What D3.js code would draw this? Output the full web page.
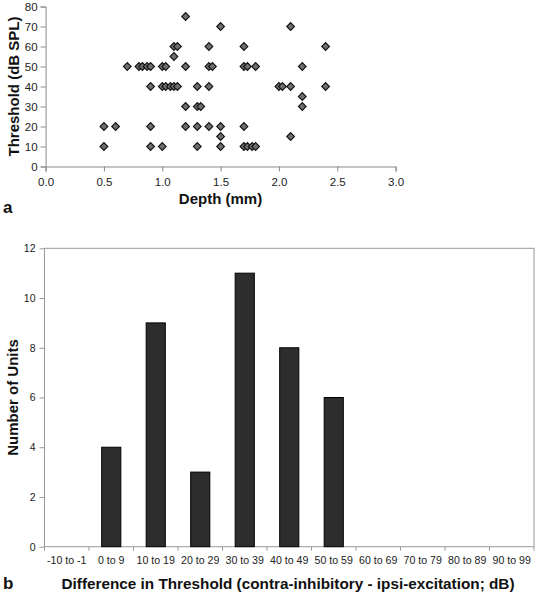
<!DOCTYPE html>
<html>
<head>
<meta charset="utf-8">
<script src="https://cdn.jsdelivr.net/npm/d3@7"></script>
<style>
  html, body { margin: 0; padding: 0; background: #fff; }
  svg { display: block; font-family: "Liberation Sans", Arial, sans-serif; }
</style>
</head>
<body>
<svg id="chart" width="537" height="593"></svg>
<script>
// ---- Panel a: scatter (depth vs threshold) ----
const depth = [
  0.7, 0.8, 0.83, 0.87, 0.9, 1.0, 1.03, 1.2, 1.4, 1.43, 1.7, 1.73, 1.8, 2.2,
  0.9, 1.0, 1.03, 1.07, 1.1, 1.13, 1.3, 1.4, 2.0, 2.03, 2.1, 2.4,
  1.2, 1.3, 1.33, 2.2,
  2.2,
  0.5, 0.6, 0.9, 1.2, 1.3, 1.4, 1.5, 1.7,
  1.5, 2.1,
  0.5, 0.9, 1.0, 1.3, 1.5, 1.7, 1.73, 1.77, 1.8,
  1.1, 1.13, 1.4, 1.7, 2.4,
  1.1,
  1.5, 2.1,
  1.2
];
const threshold = [
  50, 50, 50, 50, 50, 50, 50, 50, 50, 50, 50, 50, 50, 50,
  40, 40, 40, 40, 40, 40, 40, 40, 40, 40, 40, 40,
  30, 30, 30, 30,
  35,
  20, 20, 20, 20, 20, 20, 20, 20,
  15, 15,
  10, 10, 10, 10, 10, 10, 10, 10, 10,
  60, 60, 60, 60, 60,
  55,
  70, 70,
  75
];
const depthTicks = [0, 0.5, 1.0, 1.5, 2.0, 2.5, 3.0];
const thresholdTicks = [0, 10, 20, 30, 40, 50, 60, 70, 80];

// ---- Panel b: histogram ----
const categories = ["-10 to -1", "0 to 9", "10 to 19", "20 to 29", "30 to 39", "40 to 49",
  "50 to 59", "60 to 69", "70 to 79", "80 to 89", "90 to 99"];
const counts = [0, 4, 9, 3, 11, 8, 6, 0, 0, 0, 0];
const countTicks = [0, 2, 4, 6, 8, 10, 12];

const svg = d3.select("#chart");
const axisColor = "#8a8a8a";
const textColor = "#222";

// ===== Panel a =====
const xA = d3.scaleLinear().domain([0, 3]).range([45.6, 395.6]);
const yA = d3.scaleLinear().domain([0, 80]).range([166.5, 6.5]);

const gA = svg.append("g");
const xAxisA = gA.append("g")
  .attr("transform", `translate(0,${yA(0)})`)
  .call(d3.axisBottom(xA).tickValues(depthTicks).tickFormat(d3.format(".1f")).tickSize(5).tickPadding(6));
const yAxisA = gA.append("g")
  .attr("transform", `translate(${xA(0)},0)`)
  .call(d3.axisLeft(yA).tickValues(thresholdTicks).tickFormat(d3.format("d")).tickSize(5).tickPadding(3));
[xAxisA, yAxisA].forEach(ax => {
  ax.select(".domain").attr("stroke", axisColor);
  ax.selectAll(".tick line").attr("stroke", axisColor);
  ax.selectAll(".tick text").attr("fill", textColor).style("font-size", "11.5px")
    .style("font-family", '"Liberation Sans", Arial, sans-serif');
});

const diamond = d3.symbol().type(d3.symbolSquare).size(30);
gA.append("g").selectAll("path")
  .data(depth.map((d, i) => [d, threshold[i]]))
  .join("path")
  .attr("d", diamond)
  .attr("transform", d => `translate(${xA(d[0])},${yA(d[1])}) rotate(45)`)
  .attr("fill", "#6e6e6e")
  .attr("stroke", "#111")
  .attr("stroke-width", 1.1);

gA.append("text")
  .attr("transform", `translate(13,${(yA(0) + yA(80)) / 2}) rotate(-90)`)
  .attr("text-anchor", "middle")
  .attr("dominant-baseline", "central")
  .style("font-size", "15px").style("font-weight", "bold").attr("fill", "#111")
  .text("Threshold (dB SPL)");

gA.append("text")
  .attr("x", 220.5).attr("y", 204)
  .attr("text-anchor", "middle")
  .style("font-size", "15px").style("font-weight", "bold").attr("fill", "#111")
  .text("Depth (mm)");

gA.append("text")
  .attr("x", 3).attr("y", 213)
  .style("font-size", "17px").style("font-weight", "bold").attr("fill", "#111")
  .text("a");

// ===== Panel b =====
const x0 = 44.5, x1 = 534, yTop = 248.3, yBot = 546.7;
const xB = d3.scaleBand().domain(categories).range([x0, x1]).paddingInner(0.57).paddingOuter(0.285);
const yB = d3.scaleLinear().domain([0, 12]).range([yBot, yTop]);
const step = xB.step();

const gB = svg.append("g");
gB.append("rect")
  .attr("x", x0).attr("y", yTop).attr("width", x1 - x0).attr("height", yBot - yTop)
  .attr("fill", "none").attr("stroke", "#999").attr("stroke-width", 1);

const yAxisB = gB.append("g")
  .attr("transform", `translate(${x0},0)`)
  .call(d3.axisLeft(yB).tickValues(countTicks).tickSize(5).tickPadding(4));
yAxisB.select(".domain").remove();
yAxisB.selectAll(".tick line").attr("stroke", "#999");
yAxisB.selectAll(".tick text").attr("fill", textColor).style("font-size", "10.5px")
  .style("font-family", '"Liberation Sans", Arial, sans-serif');

// category boundary ticks
gB.append("g").selectAll("line")
  .data(d3.range(categories.length + 1))
  .join("line")
  .attr("x1", i => x0 + i * step).attr("x2", i => x0 + i * step)
  .attr("y1", yBot).attr("y2", yBot + 4)
  .attr("stroke", "#999");

// category labels
gB.append("g").selectAll("text")
  .data(categories)
  .join("text")
  .attr("x", d => xB(d) + xB.bandwidth() / 2)
  .attr("y", 564)
  .attr("text-anchor", "middle")
  .attr("fill", textColor)
  .style("font-size", "10.6px")
  .text(d => d);

// bars
gB.append("g").selectAll("rect")
  .data(categories.map((c, i) => ({ c, v: counts[i] })).filter(d => d.v > 0))
  .join("rect")
  .attr("x", d => xB(d.c))
  .attr("y", d => yB(d.v))
  .attr("width", xB.bandwidth())
  .attr("height", d => yB(0) - yB(d.v))
  .attr("fill", "#2d2d2d")
  .attr("stroke", "#000")
  .attr("stroke-width", 1);

gB.append("text")
  .attr("transform", `translate(12,${(yTop + yBot) / 2}) rotate(-90)`)
  .attr("text-anchor", "middle")
  .attr("dominant-baseline", "central")
  .style("font-size", "15px").style("font-weight", "bold").attr("fill", "#111")
  .text("Number of Units");

gB.append("text")
  .attr("x", 288).attr("y", 589)
  .attr("text-anchor", "middle")
  .style("font-size", "15.3px").style("font-weight", "bold").attr("fill", "#111")
  .text("Difference in Threshold (contra-inhibitory - ipsi-excitation; dB)");

gB.append("text")
  .attr("x", 3).attr("y", 589)
  .style("font-size", "17px").style("font-weight", "bold").attr("fill", "#111")
  .text("b");
</script>
</body>
</html>
